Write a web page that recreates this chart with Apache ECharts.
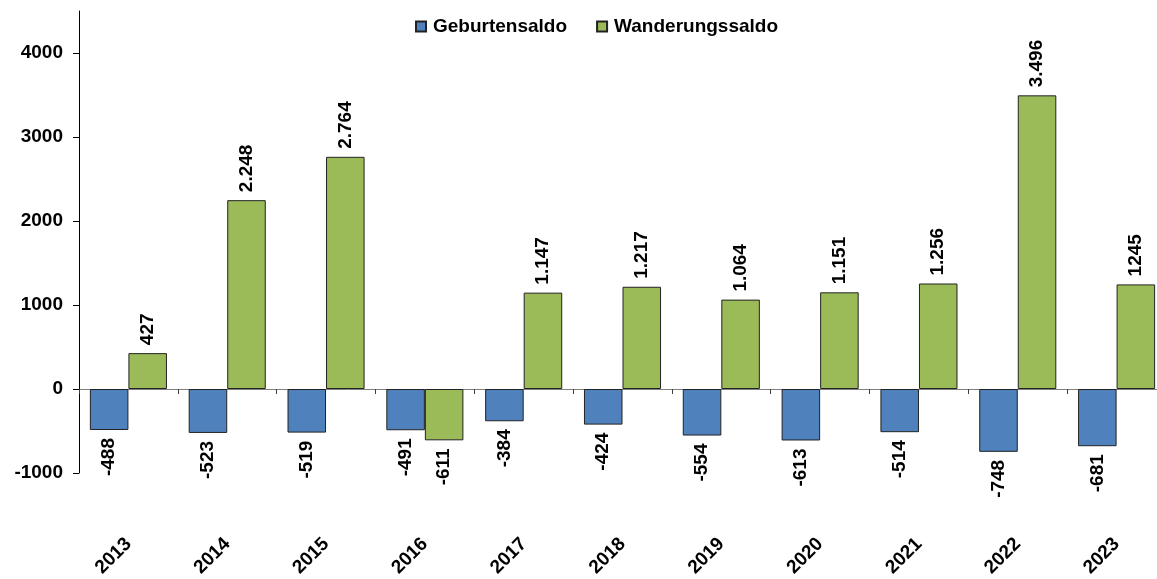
<!DOCTYPE html>
<html>
<head>
<meta charset="utf-8">
<script src="https://cdn.jsdelivr.net/npm/echarts@6/dist/echarts.min.js"></script>
<style>
html,body{margin:0;padding:0;background:#fff;}
#chart{width:1157px;height:579px;}
</style>
</head>
<body>
<div id="chart"></div>
<script>
const years = ['2013','2014','2015','2016','2017','2018','2019','2020','2021','2022','2023'];
const geburtensaldo = [-488,-523,-519,-491,-384,-424,-554,-613,-514,-748,-681];
const wanderungssaldo = [427,2248,2764,-611,1147,1217,1064,1151,1256,3496,1245];
const geburtenLabels = ['-488','-523','-519','-491','-384','-424','-554','-613','-514','-748','-681'];
const wanderungLabels = ['427','2.248','2.764','-611','1.147','1.217','1.064','1.151','1.256','3.496','1245'];
const yTicks = [-1000,0,1000,2000,3000,4000];

const FONT = '"Liberation Sans", Arial, sans-serif';
const FS = 19;

function mkData(values, labels) {
  return values.map((v, i) => ({
    value: v,
    label: {
      show: true,
      formatter: labels[i],
      position: v >= 0 ? 'top' : 'bottom',
      rotate: 90,
      align: v >= 0 ? 'left' : 'right',
      verticalAlign: 'middle',
      distance: 8,
      fontFamily: FONT,
      fontWeight: 'bold',
      fontSize: FS,
      color: '#000'
    }
  }));
}

const chart = echarts.init(document.getElementById('chart'), null, {renderer: 'canvas'});
chart.setOption({
  animation: false,
  backgroundColor: '#fff',
  legend: {
    top: 12,
    left: 410,
    itemWidth: 10,
    itemHeight: 10,
    itemGap: 29,
    icon: 'rect',
    textStyle: {fontFamily: FONT, fontWeight: 'bold', fontSize: FS, color: '#000', padding: [0, 0, 0, 2]},
    data: ['Geburtensaldo', 'Wanderungssaldo']
  },
  grid: {left: 79, right: -9, top: 11, bottom: 106, containLabel: false, outerBoundsMode: 'none'},
  xAxis: [
    {
      type: 'category',
      data: years,
      axisLine: {onZero: true, lineStyle: {color: '#808080', width: 1}},
      axisTick: {show: true, length: 5, alignWithLabel: false, lineStyle: {color: '#404040'}},
      axisLabel: {show: false},
      splitLine: {show: false}
    },
    {
      type: 'category',
      data: years,
      position: 'bottom',
      axisLine: {show: false, onZero: false},
      axisTick: {show: false},
      axisLabel: {
        rotate: 45,
        margin: 68,
        interval: 0,
        fontFamily: FONT,
        fontWeight: 'bold',
        fontSize: FS,
        color: '#000'
      },
      splitLine: {show: false}
    }
  ],
  yAxis: {
    type: 'value',
    min: -1000,
    max: 4500,
    interval: 1000,
    axisLine: {show: true, lineStyle: {color: '#000', width: 1}},
    axisTick: {show: true, length: 6, customValues: yTicks, lineStyle: {color: '#000'}},
    axisLabel: {
      customValues: yTicks,
      formatter: function (v) { return String(v); },
      margin: 16,
      fontFamily: FONT,
      fontWeight: 'bold',
      fontSize: FS,
      color: '#000'
    },
    splitLine: {show: false}
  },
  series: [
    {
      name: 'Geburtensaldo',
      type: 'bar',
      xAxisIndex: 0,
      barGap: '0%',
      barCategoryGap: '22%',
      itemStyle: {color: '#4F81BD', borderColor: '#222', borderWidth: 1},
      data: mkData(geburtensaldo, geburtenLabels)
    },
    {
      name: 'Wanderungssaldo',
      type: 'bar',
      xAxisIndex: 0,
      barGap: '0%',
      barCategoryGap: '22%',
      itemStyle: {color: '#9BBB59', borderColor: '#222', borderWidth: 1},
      data: mkData(wanderungssaldo, wanderungLabels)
    }
  ]
});
</script>
</body>
</html>
